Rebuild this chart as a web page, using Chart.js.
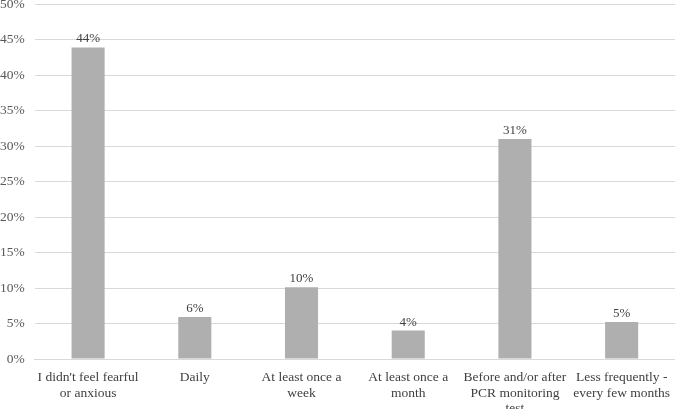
<!DOCTYPE html>
<html>
<head>
<meta charset="utf-8">
<script src="https://cdn.jsdelivr.net/npm/chart.js@4"></script>
<style>
  html, body { margin: 0; padding: 0; background: #fff; overflow: hidden; }
  #wrap { position: absolute; left: -10px; top: -14px; width: 685px; height: 439px; }
</style>
</head>
<body>
<div id="wrap"><canvas id="chart"></canvas></div>
<script>
// Categorías y valores (porcentaje)
const categorias = [
  ["I didn't feel fearful", 'or anxious'],
  'Daily',
  ['At least once a', 'week'],
  ['At least once a', 'month'],
  ['Before and/or after', 'PCR monitoring', 'test'],
  ['Less frequently -', 'every few months']
];
const valores = [43.9, 5.9, 10.1, 4, 31, 5.2];
const etiquetas = ['44%', '6%', '10%', '4%', '31%', '5%'];

const fuente = "'Liberation Serif', 'Times New Roman', serif";

// Etiquetas encima de cada barra
const etiquetasPlugin = {
  id: 'etiquetas',
  afterDatasetsDraw(chart) {
    const ctx = chart.ctx;
    const meta = chart.getDatasetMeta(0);
    ctx.save();
    ctx.font = '13px ' + fuente;
    ctx.fillStyle = '#404040';
    ctx.textAlign = 'center';
    ctx.textBaseline = 'bottom';
    meta.data.forEach((bar, i) => {
      ctx.fillText(etiquetas[i], bar.x, bar.y - 2);
    });
    ctx.restore();
  }
};

new Chart(document.getElementById('chart'), {
  type: 'bar',
  data: {
    labels: categorias,
    datasets: [{
      data: valores,
      backgroundColor: '#afafaf',
      categoryPercentage: 1,
      barPercentage: 0.31
    }]
  },
  options: {
    responsive: true,
    maintainAspectRatio: false,
    animation: false,
    layout: { padding: 0 },
    plugins: { legend: { display: false }, tooltip: { enabled: false } },
    scales: {
      x: {
        grid: { display: false },
        border: { color: '#d9d9d9' },
        ticks: {
          color: '#404040',
          font: { family: fuente, size: 13.5, lineHeight: 1.15 },
          maxRotation: 0,
          autoSkip: false,
          padding: 3
        },
        afterFit: s => { s.height = 66; }
      },
      y: {
        min: 0,
        max: 50,
        grid: { color: '#d9d9d9', drawTicks: false },
        border: { display: false },
        ticks: {
          stepSize: 5,
          color: '#595959',
          font: { family: fuente, size: 13.5 },
          padding: 10,
          callback: v => v + '%'
        }
      }
    }
  },
  plugins: [etiquetasPlugin]
});
</script>
</body>
</html>
